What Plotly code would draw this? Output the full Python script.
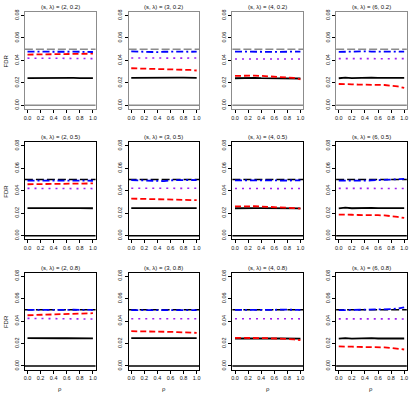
import plotly.graph_objects as go

# ---------------- data ----------------
rho = [0.0, 0.1, 0.2, 0.3, 0.4, 0.5, 0.6, 0.7, 0.8, 0.9, 1.0]
s_values = [2, 3, 4, 6]
lambda_values = [0.2, 0.5, 0.8]
nominal_level = 0.05
zero_level = 0.0

x_tick_vals = [0.0, 0.2, 0.4, 0.6, 0.8, 1.0]
x_tick_text = ["0.0", "0.2", "0.4", "0.6", "0.8", "1.0"]
y_tick_vals = [0.00, 0.02, 0.04, 0.06, 0.08]
y_tick_text = ["0.00", "0.02", "0.04", "0.06", "0.08"]

# blue dash-dot series, per (lambda, s)
blue = {
    (0.2, 2): [0.0478, 0.0477, 0.0478, 0.0476, 0.0477, 0.0478, 0.0477, 0.0478, 0.0477, 0.0476, 0.0475],
    (0.2, 3): [0.0480, 0.0478, 0.0476, 0.0478, 0.0474, 0.0477, 0.0479, 0.0476, 0.0478, 0.0477, 0.0479],
    (0.2, 4): [0.0478, 0.0479, 0.0477, 0.0479, 0.0477, 0.0476, 0.0477, 0.0478, 0.0479, 0.0477, 0.0478],
    (0.2, 6): [0.0476, 0.0478, 0.0480, 0.0478, 0.0481, 0.0479, 0.0478, 0.0480, 0.0479, 0.0481, 0.0478],
    (0.5, 2): [0.0490, 0.0489, 0.0491, 0.0490, 0.0489, 0.0490, 0.0491, 0.0490, 0.0489, 0.0490, 0.0489],
    (0.5, 3): [0.0495, 0.0494, 0.0495, 0.0488, 0.0492, 0.0486, 0.0493, 0.0495, 0.0494, 0.0496, 0.0494],
    (0.5, 4): [0.0492, 0.0493, 0.0491, 0.0492, 0.0490, 0.0492, 0.0493, 0.0491, 0.0492, 0.0493, 0.0492],
    (0.5, 6): [0.0490, 0.0489, 0.0491, 0.0488, 0.0490, 0.0492, 0.0494, 0.0495, 0.0497, 0.0500, 0.0505],
    (0.8, 2): [0.0500, 0.0499, 0.0501, 0.0498, 0.0500, 0.0501, 0.0500, 0.0501, 0.0499, 0.0500, 0.0499],
    (0.8, 3): [0.0497, 0.0496, 0.0498, 0.0497, 0.0496, 0.0498, 0.0497, 0.0498, 0.0496, 0.0497, 0.0498],
    (0.8, 4): [0.0500, 0.0499, 0.0501, 0.0500, 0.0499, 0.0501, 0.0500, 0.0502, 0.0500, 0.0501, 0.0500],
    (0.8, 6): [0.0497, 0.0498, 0.0496, 0.0495, 0.0498, 0.0500, 0.0502, 0.0503, 0.0506, 0.0512, 0.0523],
}

# red dashed series
red = {
    (0.2, 2): [0.0452, 0.0453, 0.0451, 0.0452, 0.0454, 0.0455, 0.0456, 0.0457, 0.0458, 0.0459, 0.0460],
    (0.2, 3): [0.0330, 0.0329, 0.0325, 0.0324, 0.0324, 0.0323, 0.0322, 0.0320, 0.0318, 0.0315, 0.0310],
    (0.2, 4): [0.0262, 0.0265, 0.0268, 0.0265, 0.0262, 0.0258, 0.0259, 0.0254, 0.0250, 0.0244, 0.0232],
    (0.2, 6): [0.0190, 0.0191, 0.0187, 0.0185, 0.0186, 0.0184, 0.0182, 0.0181, 0.0176, 0.0168, 0.0155],
    (0.5, 2): [0.0458, 0.0459, 0.0458, 0.0460, 0.0461, 0.0461, 0.0462, 0.0463, 0.0464, 0.0465, 0.0465],
    (0.5, 3): [0.0330, 0.0329, 0.0327, 0.0326, 0.0326, 0.0325, 0.0324, 0.0323, 0.0321, 0.0319, 0.0316],
    (0.5, 4): [0.0260, 0.0262, 0.0264, 0.0262, 0.0259, 0.0257, 0.0256, 0.0253, 0.0250, 0.0246, 0.0240],
    (0.5, 6): [0.0188, 0.0190, 0.0186, 0.0184, 0.0185, 0.0183, 0.0182, 0.0180, 0.0175, 0.0167, 0.0158],
    (0.8, 2): [0.0452, 0.0454, 0.0455, 0.0457, 0.0459, 0.0461, 0.0463, 0.0465, 0.0467, 0.0469, 0.0470],
    (0.8, 3): [0.0310, 0.0310, 0.0308, 0.0307, 0.0306, 0.0305, 0.0304, 0.0302, 0.0300, 0.0298, 0.0295],
    (0.8, 4): [0.0250, 0.0251, 0.0252, 0.0250, 0.0249, 0.0248, 0.0247, 0.0244, 0.0241, 0.0237, 0.0230],
    (0.8, 6): [0.0174, 0.0175, 0.0172, 0.0170, 0.0170, 0.0169, 0.0168, 0.0166, 0.0161, 0.0154, 0.0147],
}

# purple dotted series
purple = {
    (0.2, 2): [0.0420, 0.0421, 0.0420, 0.0419, 0.0420, 0.0419, 0.0418, 0.0418, 0.0417, 0.0417, 0.0416],
    (0.2, 3): [0.0422, 0.0421, 0.0422, 0.0421, 0.0421, 0.0422, 0.0421, 0.0421, 0.0420, 0.0421, 0.0421],
    (0.2, 4): [0.0413, 0.0414, 0.0415, 0.0414, 0.0414, 0.0413, 0.0413, 0.0413, 0.0412, 0.0412, 0.0412],
    (0.2, 6): [0.0416, 0.0417, 0.0415, 0.0416, 0.0417, 0.0416, 0.0415, 0.0416, 0.0416, 0.0415, 0.0416],
    (0.5, 2): [0.0421, 0.0420, 0.0421, 0.0420, 0.0420, 0.0421, 0.0420, 0.0420, 0.0419, 0.0420, 0.0419],
    (0.5, 3): [0.0422, 0.0423, 0.0422, 0.0422, 0.0421, 0.0422, 0.0422, 0.0421, 0.0422, 0.0421, 0.0422],
    (0.5, 4): [0.0420, 0.0421, 0.0420, 0.0420, 0.0421, 0.0420, 0.0419, 0.0420, 0.0420, 0.0419, 0.0420],
    (0.5, 6): [0.0421, 0.0422, 0.0421, 0.0420, 0.0421, 0.0421, 0.0420, 0.0421, 0.0421, 0.0420, 0.0420],
    (0.8, 2): [0.0424, 0.0424, 0.0423, 0.0423, 0.0422, 0.0421, 0.0421, 0.0420, 0.0419, 0.0419, 0.0418],
    (0.8, 3): [0.0421, 0.0422, 0.0421, 0.0421, 0.0420, 0.0421, 0.0421, 0.0420, 0.0421, 0.0420, 0.0421],
    (0.8, 4): [0.0421, 0.0420, 0.0421, 0.0421, 0.0420, 0.0421, 0.0420, 0.0421, 0.0420, 0.0421, 0.0420],
    (0.8, 6): [0.0420, 0.0421, 0.0420, 0.0419, 0.0420, 0.0421, 0.0420, 0.0420, 0.0419, 0.0420, 0.0419],
}

# black solid series
black = {
    (0.2, 2): [0.0243, 0.0244, 0.0245, 0.0244, 0.0244, 0.0243, 0.0244, 0.0244, 0.0243, 0.0243, 0.0242],
    (0.2, 3): [0.0245, 0.0246, 0.0245, 0.0247, 0.0246, 0.0247, 0.0246, 0.0247, 0.0246, 0.0246, 0.0245],
    (0.2, 4): [0.0241, 0.0244, 0.0246, 0.0245, 0.0243, 0.0242, 0.0243, 0.0241, 0.0240, 0.0240, 0.0239],
    (0.2, 6): [0.0241, 0.0247, 0.0243, 0.0246, 0.0244, 0.0246, 0.0244, 0.0243, 0.0244, 0.0244, 0.0244],
    (0.5, 2): [0.0245, 0.0246, 0.0245, 0.0245, 0.0246, 0.0245, 0.0245, 0.0246, 0.0245, 0.0244, 0.0244],
    (0.5, 3): [0.0246, 0.0247, 0.0246, 0.0245, 0.0247, 0.0246, 0.0245, 0.0246, 0.0247, 0.0246, 0.0245],
    (0.5, 4): [0.0244, 0.0246, 0.0247, 0.0246, 0.0245, 0.0244, 0.0245, 0.0244, 0.0244, 0.0243, 0.0243],
    (0.5, 6): [0.0243, 0.0249, 0.0244, 0.0247, 0.0245, 0.0248, 0.0245, 0.0246, 0.0245, 0.0246, 0.0245],
    (0.8, 2): [0.0248, 0.0249, 0.0248, 0.0248, 0.0247, 0.0247, 0.0247, 0.0248, 0.0247, 0.0247, 0.0246],
    (0.8, 3): [0.0248, 0.0249, 0.0248, 0.0249, 0.0248, 0.0249, 0.0248, 0.0248, 0.0249, 0.0248, 0.0248],
    (0.8, 4): [0.0245, 0.0246, 0.0245, 0.0246, 0.0245, 0.0244, 0.0245, 0.0245, 0.0244, 0.0244, 0.0243],
    (0.8, 6): [0.0243, 0.0248, 0.0244, 0.0247, 0.0245, 0.0248, 0.0245, 0.0246, 0.0245, 0.0246, 0.0245],
}

# ---------------- layout ----------------
W, H = 417, 395
cell_w, cell_h = W / 4, H / 3
pad_left, pad_right, pad_top, pad_bottom = 24, 9.25, 9, 24.67
FONT = "Liberation Sans, Arial, sans-serif"
GREY = "#8c8c8c"
TXT = "#111111"

fig = go.Figure()
layout = dict(
    width=W, height=H, margin=dict(l=0, r=0, t=0, b=0),
    paper_bgcolor="white", plot_bgcolor="white", showlegend=False,
    font=dict(family=FONT, size=6, color=TXT),
)
annotations = []
shapes = []

for r, lam in enumerate(lambda_values):
    frame_col = GREY if r == 0 else "black"
    for c, s in enumerate(s_values):
        idx = r * 4 + c + 1
        xa = "x" if idx == 1 else f"x{idx}"
        ya = "y" if idx == 1 else f"y{idx}"
        xl = "xaxis" if idx == 1 else f"xaxis{idx}"
        yl = "yaxis" if idx == 1 else f"yaxis{idx}"
        x0 = c * cell_w + pad_left
        x1 = (c + 1) * cell_w - pad_right
        top = r * cell_h + pad_top
        bot = (r + 1) * cell_h - pad_bottom
        layout[xl] = dict(
            domain=[x0 / W, x1 / W], anchor=ya, range=[-0.04, 1.04],
            showgrid=False, zeroline=False, showline=True, mirror=True,
            linecolor=frame_col, linewidth=1,
            ticks="outside", ticklen=3, tickcolor="black", tickwidth=1,
            tickvals=x_tick_vals, ticktext=x_tick_text,
            tickfont=dict(family=FONT, size=5.5, color=TXT),
        )
        layout[yl] = dict(
            domain=[1 - bot / H, 1 - top / H], anchor=xa, range=[-0.0032, 0.0832],
            showgrid=False, zeroline=False, showline=True, mirror=True,
            linecolor=frame_col, linewidth=1,
            ticks="outside", ticklen=3, tickcolor="black", tickwidth=1,
            tickvals=y_tick_vals, ticktext=y_tick_text, tickangle=-90,
            tickfont=dict(family=FONT, size=5.5, color=TXT),
        )
        key = (lam, s)
        # reference lines
        shapes.append(dict(type="line", xref=f"{xa} domain", yref=ya, x0=0, x1=1,
                           y0=zero_level, y1=zero_level, layer="below",
                           line=dict(color=frame_col, width=1.5)))
        shapes.append(dict(type="line", xref=f"{xa} domain", yref=ya, x0=0, x1=1,
                           y0=nominal_level, y1=nominal_level, layer="below",
                           line=dict(color=frame_col, width=1.5, dash="8px,3px")))
        fig.add_trace(go.Scatter(x=rho, y=black[key], xaxis=xa, yaxis=ya, mode="lines",
                                 line=dict(color="black", width=1.8)))
        fig.add_trace(go.Scatter(x=rho, y=purple[key], xaxis=xa, yaxis=ya, mode="lines",
                                 line=dict(color="#A020F0", width=1.6, dash="2px,5px")))
        fig.add_trace(go.Scatter(x=rho, y=red[key], xaxis=xa, yaxis=ya, mode="lines",
                                 line=dict(color="#FF0000", width=1.8, dash="6px,3px")))
        fig.add_trace(go.Scatter(x=rho, y=blue[key], xaxis=xa, yaxis=ya, mode="lines",
                                 line=dict(color="#0000FF", width=1.8, dash="7px,3px,2px,3px")))
        # panel title
        annotations.append(dict(
            text=f"(s, λ) = ({s}, {lam})", xref="paper", yref="paper",
            x=(x0 + x1) / 2 / W, y=1 - (top - 5) / H, xanchor="center", yanchor="middle",
            showarrow=False, font=dict(family=FONT, size=6, color=TXT),
        ))
        if c == 0:
            annotations.append(dict(
                text="FDR", xref="paper", yref="paper", x=5 / W, y=1 - (top + bot) / 2 / H,
                xanchor="center", yanchor="middle", textangle=-90, showarrow=False,
                font=dict(family=FONT, size=6, color=TXT),
            ))
        if r == 2:
            annotations.append(dict(
                text="ρ", xref="paper", yref="paper", x=(x0 + x1) / 2 / W, y=1 - (H - 5) / H,
                xanchor="center", yanchor="middle", showarrow=False,
                font=dict(family=FONT, size=6, color=TXT),
            ))

layout["annotations"] = annotations
layout["shapes"] = shapes
fig.update_layout(**layout)
fig.write_html("out.html", config={"displayModeBar": False},
               post_script="document.body.style.margin='0px';document.body.style.overflow='hidden';")
